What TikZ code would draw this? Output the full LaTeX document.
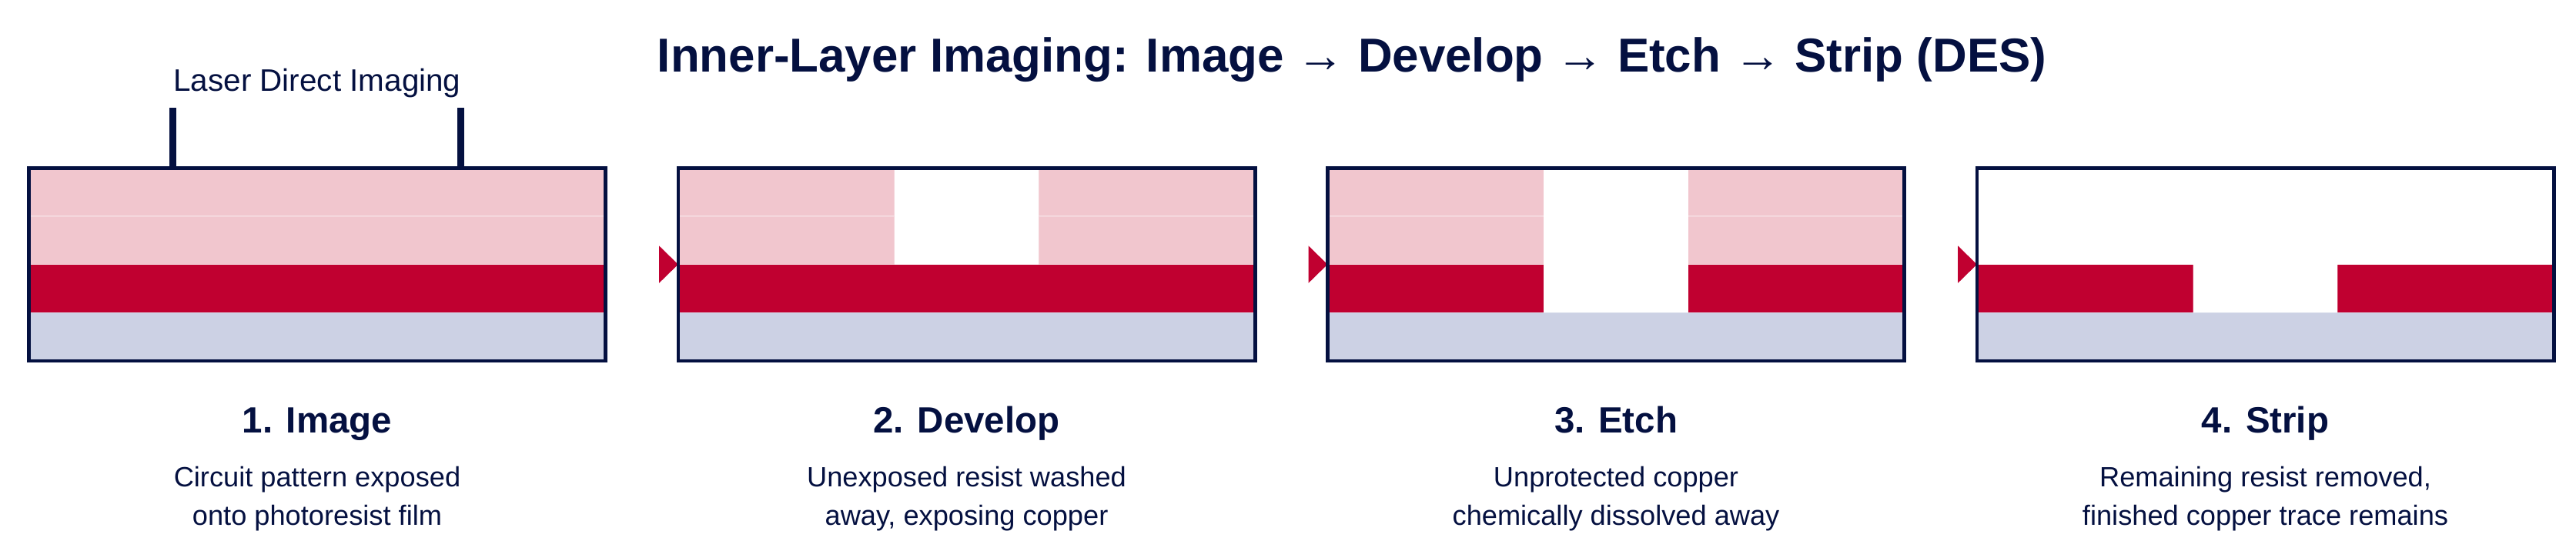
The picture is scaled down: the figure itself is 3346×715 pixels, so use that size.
\documentclass[tikz,border=0pt]{standalone}
\usepackage{fontspec}
\setmainfont{Liberation Sans}
\usepackage{tikz}
\usepackage{color}
\definecolor{navy}{RGB}{4,16,64}
\definecolor{resist}{RGB}{241,198,206}
\definecolor{copper}{RGB}{192,0,48}
\definecolor{core}{RGB}{204,209,228}
\begin{document}
\begin{tikzpicture}[x=0.01cm,y=0.01cm]
\tikzstyle{every node}+=[inner sep=0pt, text=navy]
\tikzstyle{layer}=[draw=white, draw opacity=0.25, line width=0.4pt]
\tikzstyle{frame}=[navy, line width=1.3pt]
\useasboundingbox (0,0) rectangle (3346,-715);
\draw (1756,-93) node [anchor=base] (title) {\fontsize{17.6}{21}\selectfont\bfseries Inner-Layer Imaging: Image → Develop → Etch → Strip (DES)};
\draw (412,-118) node [anchor=base] (laser) {\fontsize{11.5}{13}\selectfont Laser Direct Imaging};
\draw [navy, line width=2.6pt] (224.2,-140.3) -- (224.2,-218.3);
\draw [navy, line width=2.6pt] (598.7,-140.3) -- (598.7,-218.3);
\draw [layer, fill=resist] (37.3,-218.3) rectangle (786.7,-280.9);
\draw [layer, fill=resist] (37.3,-280.9) rectangle (786.7,-343.6);
\draw [layer, fill=copper] (37.3,-343.6) rectangle (786.7,-406.2);
\draw [layer, fill=core] (37.3,-406.2) rectangle (786.7,-468.8);
\draw [frame] (37.3,-218.3) rectangle (786.7,-468.8);
\draw [layer, fill=resist] (880.8,-218.3) rectangle (1161.8,-280.9);
\draw [layer, fill=resist] (880.8,-280.9) rectangle (1161.8,-343.6);
\draw [layer, fill=resist] (1349.2,-218.3) rectangle (1630.2,-280.9);
\draw [layer, fill=resist] (1349.2,-280.9) rectangle (1630.2,-343.6);
\draw [layer, fill=copper] (880.8,-343.6) rectangle (1630.2,-406.2);
\draw [layer, fill=core] (880.8,-406.2) rectangle (1630.2,-468.8);
\fill [copper] (880.8,-343.6) -- (856,-319.3) -- (856,-367.9);
\draw [frame] (880.8,-218.3) rectangle (1630.2,-468.8);
\draw [layer, fill=resist] (1724.3,-218.3) rectangle (2005.3,-280.9);
\draw [layer, fill=resist] (1724.3,-280.9) rectangle (2005.3,-343.6);
\draw [layer, fill=resist] (2192.7,-218.3) rectangle (2473.7,-280.9);
\draw [layer, fill=resist] (2192.7,-280.9) rectangle (2473.7,-343.6);
\draw [layer, fill=copper] (1724.3,-343.6) rectangle (2005.3,-406.2);
\draw [layer, fill=copper] (2192.7,-343.6) rectangle (2473.7,-406.2);
\draw [layer, fill=core] (1724.3,-406.2) rectangle (2473.7,-468.8);
\fill [copper] (1724.3,-343.6) -- (1699.5,-319.3) -- (1699.5,-367.9);
\draw [frame] (1724.3,-218.3) rectangle (2473.7,-468.8);
\draw [layer, fill=copper] (2567.8,-343.6) rectangle (2848.8,-406.2);
\draw [layer, fill=copper] (3036.2,-343.6) rectangle (3317.2,-406.2);
\draw [layer, fill=core] (2567.8,-406.2) rectangle (3317.2,-468.8);
\fill [copper] (2567.8,-343.6) -- (2543,-319.3) -- (2543,-367.9);
\draw [frame] (2567.8,-218.3) rectangle (3317.2,-468.8);
\draw (412,-562) node [anchor=base] (step1) {\fontsize{13.5}{16}\selectfont\bfseries 1. Image};
\draw (412,-632) node [anchor=base] (desc1a) {\fontsize{10.3}{12}\selectfont Circuit pattern exposed};
\draw (412,-682) node [anchor=base] (desc1b) {\fontsize{10.3}{12}\selectfont onto photoresist film};
\draw (1255.5,-562) node [anchor=base] (step2) {\fontsize{13.5}{16}\selectfont\bfseries 2. Develop};
\draw (1255.5,-632) node [anchor=base] (desc2a) {\fontsize{10.3}{12}\selectfont Unexposed resist washed};
\draw (1255.5,-682) node [anchor=base] (desc2b) {\fontsize{10.3}{12}\selectfont away, exposing copper};
\draw (2099,-562) node [anchor=base] (step3) {\fontsize{13.5}{16}\selectfont\bfseries 3. Etch};
\draw (2099,-632) node [anchor=base] (desc3a) {\fontsize{10.3}{12}\selectfont Unprotected copper};
\draw (2099,-682) node [anchor=base] (desc3b) {\fontsize{10.3}{12}\selectfont chemically dissolved away};
\draw (2942.5,-562) node [anchor=base] (step4) {\fontsize{13.5}{16}\selectfont\bfseries 4. Strip};
\draw (2942.5,-632) node [anchor=base] (desc4a) {\fontsize{10.3}{12}\selectfont Remaining resist removed,};
\draw (2942.5,-682) node [anchor=base] (desc4b) {\fontsize{10.3}{12}\selectfont finished copper trace remains};
\end{tikzpicture}
\end{document}
